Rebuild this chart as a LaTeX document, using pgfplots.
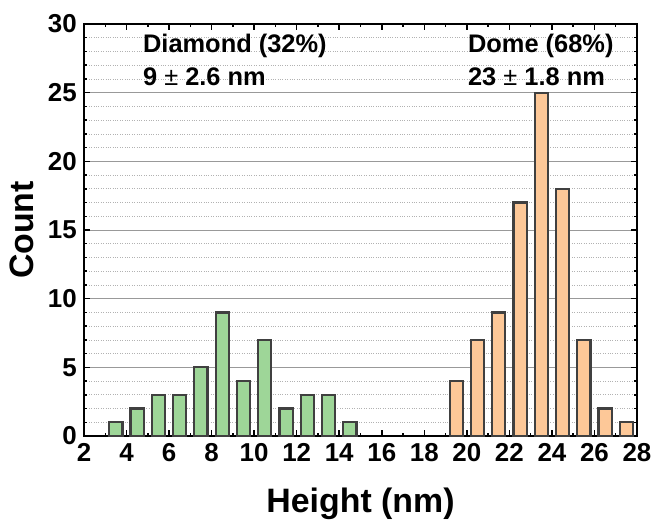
\documentclass[border=0pt]{standalone}
\usepackage{fontspec}
\setmainfont{Liberation Sans}
\usepackage{pgfplots}
\pgfplotsset{compat=1.18}
\definecolor{gfill}{RGB}{158,214,152}
\definecolor{ofill}{RGB}{253,200,152}
\definecolor{edge}{RGB}{64,64,64}
\begin{document}
\begin{tikzpicture}
\begin{axis}[
 name=ax,
 scale only axis, width=553bp, height=412bp,
 xmin=2, xmax=28, ymin=0, ymax=30,
 xtick={2,4,...,28}, minor x tick num=1,
 ytick={0,5,...,30}, minor y tick num=4,
 tick align=inside,
 major tick length=6bp, minor tick length=3bp,
 ymajorgrids, yminorgrids,
 major grid style={black!40, line width=0.8bp},
 minor grid style={black!30, dotted, line width=0.7bp},
 axis line style={line width=2bp, black},
 every tick/.style={black, line width=1.5bp},
 tick label style={font=\bfseries\fontsize{26}{26}\selectfont, inner sep=1bp},
 xticklabel style={yshift=-6bp},
 yticklabel style={xshift=-6bp},
 /pgf/number format/assume math mode=true,
 xlabel={Height (nm)}, ylabel={Count},
 label style={font=\bfseries\fontsize{34}{34}\selectfont},
 xlabel style={at={(axis description cs:0.5,-0.165)}, anchor=center},
 ylabel style={at={(axis description cs:-0.112,0.5)}, anchor=center},
]
\addplot[ybar, bar shift=0pt, bar width=0.62, fill=gfill, draw=edge, line width=2.2bp] coordinates {
(3.5,1)(4.5,2)(5.5,3)(6.5,3)(7.5,5)(8.5,9)(9.5,4)(10.5,7)(11.5,2)(12.5,3)(13.5,3)(14.5,1)};
\addplot[ybar, bar shift=0pt, bar width=0.62, fill=ofill, draw=edge, line width=2.2bp] coordinates {
(19.5,4)(20.5,7)(21.5,9)(22.5,17)(23.5,25)(24.5,18)(25.5,7)(26.5,2)(27.5,1)};
\node[anchor=base west, font=\bfseries\fontsize{25.5}{25.5}\selectfont, inner sep=0pt] at (axis cs:4.77,27.95) {Diamond (32\%)};
\node[anchor=base west, font=\bfseries\fontsize{25.5}{25.5}\selectfont, inner sep=0pt] at (axis cs:4.77,25.55) {9 {\mdseries ±} 2.6 nm};
\node[anchor=base west, font=\bfseries\fontsize{25.5}{25.5}\selectfont, inner sep=0pt] at (axis cs:20.05,27.95) {Dome (68\%)};
\node[anchor=base west, font=\bfseries\fontsize{25.5}{25.5}\selectfont, inner sep=0pt] at (axis cs:20.05,25.55) {23 {\mdseries ±} 1.8 nm};
\end{axis}
\path ([shift={(-84bp,-82bp)}]ax.south west) rectangle ([shift={(18bp,24bp)}]ax.north east);
\end{tikzpicture}
\end{document}
